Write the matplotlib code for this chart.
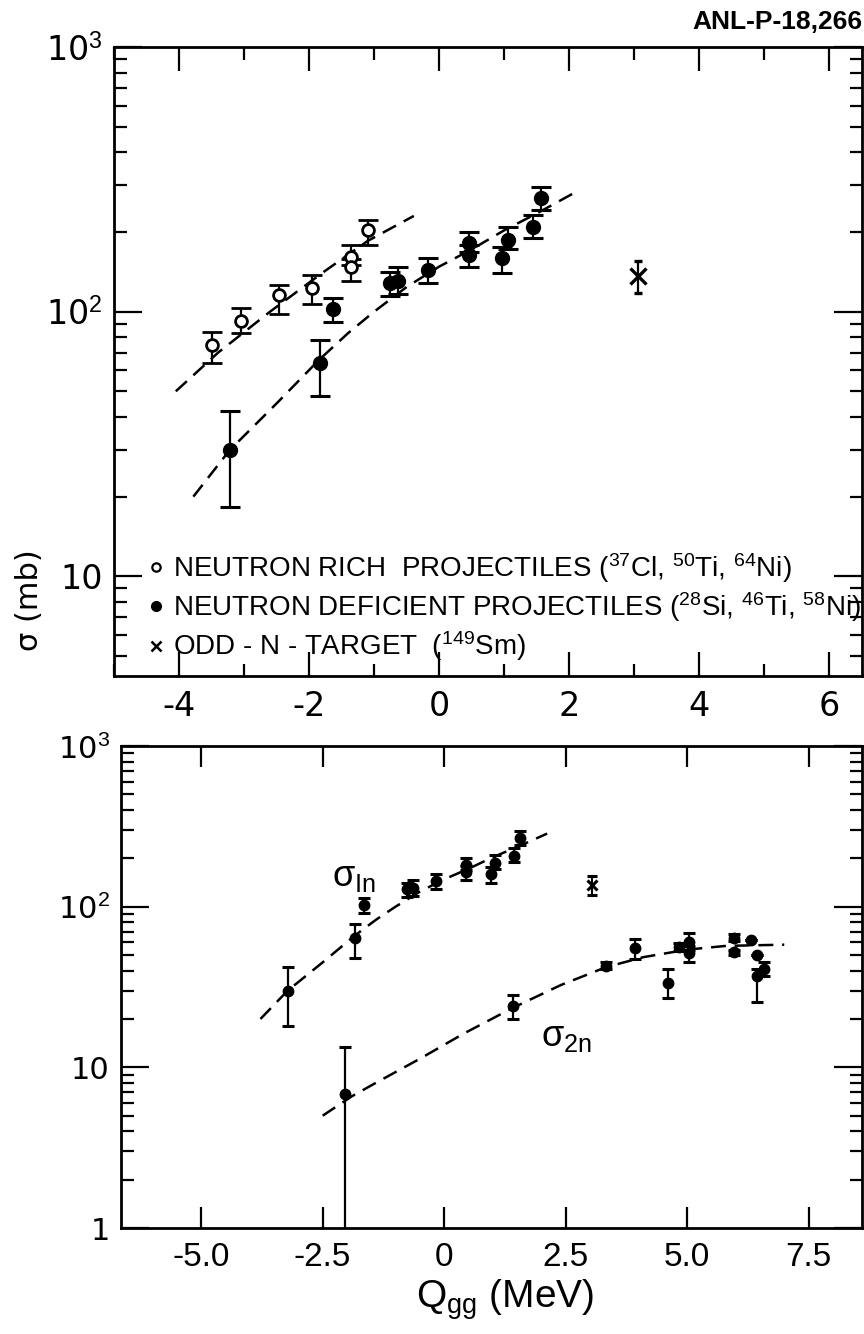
"""
Two-panel log plot: fusion cross sections vs Q_gg (ANL-P-18,266 recreation).
"""

import matplotlib
matplotlib.use("Agg")
import matplotlib.pyplot as plt
from matplotlib import font_manager
from matplotlib.lines import Line2D
from matplotlib.ticker import FixedLocator, LogLocator, NullFormatter
import numpy as np

# narrower face for the hand-lettered text (falls back to DejaVu)
installed = {f.name for f in font_manager.fontManager.ttflist}
NARROW = "DejaVu Sans"
for name in ("Liberation Sans Narrow", "Liberation Sans", "Roboto"):
    if name in installed:
        NARROW = name
        break

plt.rcParams["axes.unicode_minus"] = False
plt.rcParams["mathtext.fontset"] = "custom"
plt.rcParams["mathtext.rm"] = NARROW
plt.rcParams["mathtext.it"] = NARROW
plt.rcParams["mathtext.bf"] = NARROW

# --- top panel data ---
# neutron rich projectiles (open circles)
rich_q = [-3.49, -3.04, -2.47, -1.95, -1.35, -1.35, -1.09]
rich_sig = [75, 92, 116, 123, 161, 147, 204]
rich_lo = [64, 83, 98, 107, 150, 131, 179]
rich_hi = [84, 103, 126, 138, 179, 158, 222]

# neutron deficient projectiles (filled circles) -- also the sigma_1n set below
def_q = [-3.22, -1.84, -1.64, -0.76, -0.64, -0.17, 0.46, 0.46, 0.96, 1.05, 1.44, 1.57]
def_sig = [30, 64, 102, 128, 130, 144, 182, 164, 160, 187, 208, 269]
def_lo = [18.2, 48, 91, 115, 117, 128, 168, 147, 140, 172, 190, 243]
def_hi = [42, 78, 113, 141, 147, 160, 200, 178, 176, 209, 232, 297]

# odd-N target (149Sm)
sm_q = [3.05]
sm_sig = [136]
sm_lo = [118]
sm_hi = [155]

# dashed guide curves
rich_fit_q = [-4.05, -3.4, -2.6, -1.8, -1.1, -0.39]
rich_fit = [50, 70, 100, 140, 185, 230]
def_fit_q = [-3.78, -3.22, -2.5, -1.84, -1.4, -1.0, -0.5, 0.0, 0.5, 1.0, 1.5, 2.12]
def_fit = [20, 30, 45, 66, 83, 100, 124, 148, 172, 203, 235, 285]

# --- bottom panel data: sigma_2n ---
two_q = [-2.04, 1.42, 3.33, 3.93, 4.61, 4.84, 5.04, 5.04, 5.97, 5.97, 6.32, 6.44, 6.44, 6.58]
two_sig = [6.8, 24, 43, 55, 33.5, 56, 60, 51.5, 64, 52, 62, 50, 37, 41]
two_lo = [0.9, 20, 41, 47, 27, 53, 57, 45, 61, 50, 62, 50, 25.5, 37]
two_hi = [13.4, 28, 45.5, 63, 41, 59, 69, 54, 68, 54, 62, 50, 41, 45]
two_fit_q = [-2.5, -1.9, -1.44, -0.5, 0.4, 1.42, 2.4, 3.33, 4.1, 5.0, 5.8, 7.0]
two_fit = [5.0, 6.6, 7.9, 11.3, 16.2, 23.5, 32.5, 42, 48.5, 54, 57, 58]

top_xticks = [-4, -2, 0, 2, 4, 6]
top_xminor = [-5, -3, -1, 1, 3, 5]
bot_xticks = [-5.0, -2.5, 0.0, 2.5, 5.0, 7.5]
bot_xlabels = ["-5.0", "-2.5", "0", "2.5", "5.0", "7.5"]


def yerr(sig, lo, hi):
    sig = np.array(sig, dtype=float)
    return [sig - np.array(lo), np.array(hi) - sig]


DASH = (0, (6, 3.5))

fig = plt.figure(figsize=(8.64, 13.34), dpi=100)
W, H = 864, 1334
ax1 = fig.add_axes([114 / W, (H - 676) / H, (862 - 114) / W, (676 - 47) / H])
ax2 = fig.add_axes([121 / W, (H - 1228) / H, (862 - 121) / W, (1228 - 746) / H])

# ---------- top panel ----------
ax1.plot(rich_fit_q, rich_fit, color="black", lw=1.8, ls=DASH)
ax1.plot(def_fit_q, def_fit, color="black", lw=1.8, ls=DASH)
ax1.errorbar(rich_q, rich_sig, yerr=yerr(rich_sig, rich_lo, rich_hi), fmt="o",
             ms=8.5, mfc="white", mec="black", mew=2, ecolor="black",
             elinewidth=1.6, capsize=7, capthick=2.2, zorder=3)
ax1.errorbar(def_q, def_sig, yerr=yerr(def_sig, def_lo, def_hi), fmt="o",
             ms=10, color="black", elinewidth=1.6, capsize=7, capthick=2.2, zorder=3)
ax1.errorbar(sm_q, sm_sig, yerr=yerr(sm_sig, sm_lo, sm_hi), fmt="x",
             ms=11, mew=2.4, color="black", elinewidth=1.6, capsize=3, capthick=1.6)

ax1.set_yscale("log")
ax1.set_xlim(-5.0, 6.5)
ax1.set_ylim(4.2, 1000)
ax1.set_xticks(top_xticks)
ax1.set_xticklabels([str(t) for t in top_xticks])
ax1.xaxis.set_minor_locator(FixedLocator(top_xminor))
ax1.set_yticks([10, 100, 1000])
ax1.set_yticklabels(["10", r"10$^2$", r"10$^3$"])

handles = [
    Line2D([], [], ls="none", marker="o", ms=6, mfc="white", mec="black", mew=1.6),
    Line2D([], [], ls="none", marker="o", ms=7, color="black"),
    Line2D([], [], ls="none", marker="x", ms=7, mew=1.8, color="black"),
]
labels = [
    r"NEUTRON RICH  PROJECTILES ($^{37}$Cl, $^{50}$Ti, $^{64}$Ni)",
    r"NEUTRON DEFICIENT PROJECTILES ($^{28}$Si, $^{46}$Ti, $^{58}$Ni)",
    r"ODD - N - TARGET  ($^{149}$Sm)",
]
ax1.legend(handles, labels, loc="lower left", bbox_to_anchor=(0.045, 0.02),
           frameon=False, handlelength=0.6, handletextpad=0.3, labelspacing=0.2,
           borderpad=0, borderaxespad=0, prop={"family": NARROW, "size": 20})

# ---------- bottom panel ----------
ax2.plot(def_fit_q, def_fit, color="black", lw=1.8, ls=DASH)
ax2.plot(two_fit_q, two_fit, color="black", lw=1.8, ls=DASH)
ax2.errorbar(def_q, def_sig, yerr=yerr(def_sig, def_lo, def_hi), fmt="o",
             ms=7.5, color="black", elinewidth=1.6, capsize=4.5, capthick=2.2, zorder=3)
ax2.errorbar(two_q, two_sig, yerr=yerr(two_sig, two_lo, two_hi), fmt="o",
             ms=7.5, color="black", elinewidth=1.6, capsize=4.5, capthick=2.2, zorder=3)
ax2.errorbar(sm_q, sm_sig, yerr=yerr(sm_sig, sm_lo, sm_hi), fmt="x",
             ms=7, mew=2.2, color="black", elinewidth=1.5, capsize=3.5, capthick=2)

ax2.set_yscale("log")
ax2.set_xlim(-6.65, 8.6)
ax2.set_ylim(1, 1000)
ax2.set_xticks(bot_xticks)
ax2.set_xticklabels(bot_xlabels)
ax2.set_yticks([1, 10, 100, 1000])
ax2.set_yticklabels(["1", "10", r"10$^2$", r"10$^3$"])

ax2.text(-2.3, 135, r"$\sigma_{\rm In}$", fontsize=26, family=NARROW)
ax2.text(2.0, 13.5, r"$\sigma_{\rm 2n}$", fontsize=26, family=NARROW)

for ax in (ax1, ax2):
    ax.yaxis.set_minor_locator(LogLocator(base=10, subs=range(2, 10), numticks=20))
    ax.yaxis.set_minor_formatter(NullFormatter())
    for s in ax.spines.values():
        s.set_linewidth(2)
    ax.tick_params(which="both", direction="in", top=True, right=True, width=1.6)
    ax.tick_params(axis="y", which="major", length=20, pad=8)
    ax.tick_params(axis="y", which="minor", length=9)

ax1.tick_params(axis="x", which="major", length=17, pad=10, labelsize=24)
ax1.tick_params(axis="x", which="minor", length=9)
ax1.tick_params(axis="y", labelsize=24)
ax2.tick_params(axis="x", which="major", length=15, pad=10, labelsize=24)
ax2.tick_params(axis="y", labelsize=22)
for lab in ax2.get_xticklabels():
    lab.set_family(NARROW)

fig.text(30 / W, (H - 600) / H, "σ (mb)", rotation=90, ha="center", va="center",
         fontsize=22)
fig.text(862 / W, (H - 22) / H, "ANL-P-18,266", ha="right", va="center",
         fontsize=19, fontweight="bold", family=NARROW)
fig.text(505 / W, (H - 1300) / H, r"Q$_{\rm gg}$ (MeV)", ha="center", va="center",
         fontsize=28, family=NARROW)

fig.savefig("out.png", dpi=100, facecolor="white")
